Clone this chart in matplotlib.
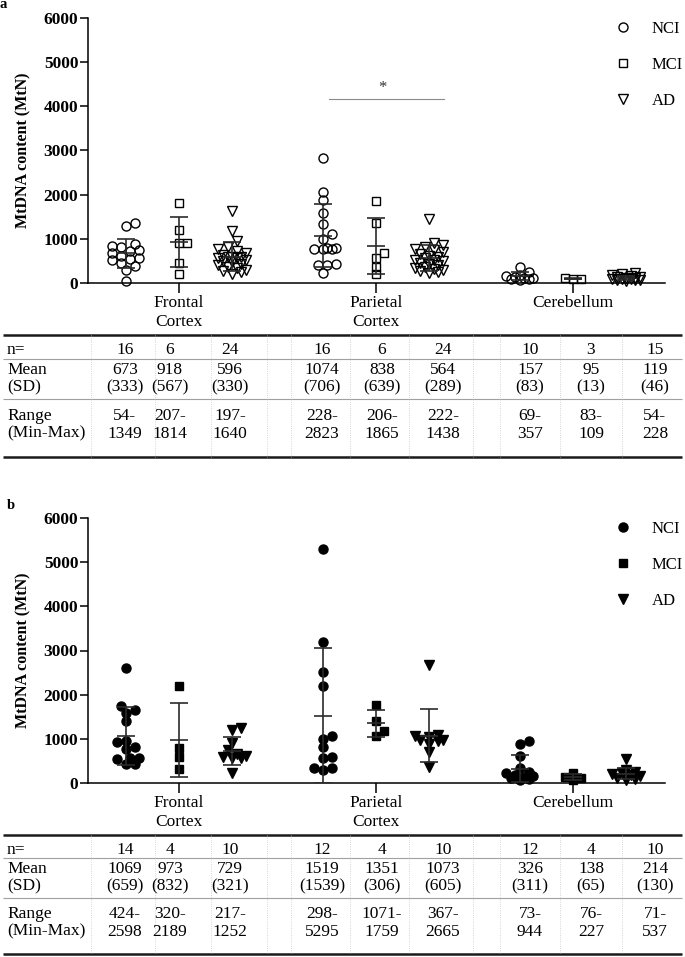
import numpy as np
import matplotlib
matplotlib.use("Agg")
import matplotlib.pyplot as plt
from matplotlib.lines import Line2D

plt.rcParams["font.family"] = ["Liberation Serif", "DejaVu Serif"]

# ---- data ----
regions = ["Frontal\nCortex", "Parietal\nCortex", "Cerebellum"]
groups = ["NCI", "MCI", "AD"]

# panel a: individual values
a_fc_nci = [54, 300, 380, 450, 520, 540, 560, 620, 680, 720, 750, 830, 820, 880, 1280, 1349]
a_fc_mci = [207, 450, 900, 900, 1200, 1814]
a_fc_ad = [1640, 1180, 950, 820, 760, 720, 680, 640, 600, 580, 560, 600, 560, 530, 500, 470,
           440, 400, 360, 330, 300, 270, 240, 197]
a_pc_nci = [2823, 2070, 1880, 1590, 1330, 1110, 1000, 800, 780, 770, 800, 760, 420, 400, 400, 228]
a_pc_mci = [1865, 1350, 680, 560, 370, 206]
a_pc_ad = [1438, 900, 870, 820, 780, 740, 700, 660, 620, 580, 560, 530, 520, 490, 460, 430,
           400, 370, 340, 310, 290, 270, 250, 222]
a_cb_nci = [357, 250, 180, 160, 140, 120, 110, 100, 80, 69]
a_cb_mci = [83, 93, 109]
a_cb_ad = [228, 200, 180, 160, 140, 130, 120, 110, 100, 90, 80, 70, 65, 60, 54]

# panel b
b_fc_nci = [2598, 1750, 1650, 1580, 1400, 950, 920, 820, 780, 560, 560, 540, 430, 424]
b_fc_mci = [2189, 800, 583, 320]
b_fc_ad = [1252, 1200, 900, 750, 660, 610, 590, 570, 560, 217]
b_pc_nci = [5295, 3200, 2520, 2200, 1060, 1000, 820, 600, 570, 350, 330, 298]
b_pc_mci = [1759, 1400, 1175, 1071]
b_pc_ad = [2665, 1080, 1060, 1040, 980, 970, 950, 890, 700, 367]
b_cb_nci = [944, 880, 620, 350, 250, 220, 180, 150, 130, 110, 90, 73]
b_cb_mci = [227, 140, 110, 76]
b_cb_ad = [537, 300, 260, 230, 200, 180, 160, 120, 90, 71]

# summary tables (columns: FC NCI/MCI/AD, PC NCI/MCI/AD, CB NCI/MCI/AD)
a_n = [16, 6, 24, 16, 6, 24, 10, 3, 15]
a_mean = [673, 918, 596, 1074, 838, 564, 157, 95, 119]
a_sd = [333, 567, 330, 706, 639, 289, 83, 13, 46]
a_min = [54, 207, 197, 228, 206, 222, 69, 83, 54]
a_max = [1349, 1814, 1640, 2823, 1865, 1438, 357, 109, 228]

b_n = [14, 4, 10, 12, 4, 10, 12, 4, 10]
b_mean = [1069, 973, 729, 1519, 1351, 1073, 326, 138, 214]
b_sd = [659, 832, 321, 1539, 306, 605, 311, 65, 130]
b_min = [424, 320, 217, 298, 1071, 367, 73, 76, 71]
b_max = [2598, 2189, 1252, 5295, 1759, 2665, 944, 227, 537]

a_points = [a_fc_nci, a_fc_mci, a_fc_ad, a_pc_nci, a_pc_mci, a_pc_ad, a_cb_nci, a_cb_mci, a_cb_ad]
b_points = [b_fc_nci, b_fc_mci, b_fc_ad, b_pc_nci, b_pc_mci, b_pc_ad, b_cb_nci, b_cb_mci, b_cb_ad]

# ---- layout ----
W, H = 685, 957
fig = plt.figure(figsize=(W / 100, H / 100), dpi=100)
FS = 12.5


def px_box(left, top, right, bottom):
    return [left / W, 1 - bottom / H, (right - left) / W, (bottom - top) / H]


sub_off = [-0.27, 0.0, 0.27]
markers = ["o", "s", "v"]
msizes = [6.5, 5.8, 6.6]


def swarm(ax, xc, vals, diam, maxoff):
    """simple beeswarm: returns x offsets in data units"""
    pts = ax.transData.transform(np.column_stack([np.full(len(vals), xc), vals]))
    ys = pts[:, 1]
    step = diam * 0.5
    cands = [0.0]
    k = 1
    while k * step <= maxoff:
        cands += [k * step, -k * step]
        k += 1
    placed = []
    offs = np.zeros(len(vals))
    for i in np.argsort(ys):
        best, bestd = 0.0, -1
        for c in cands:
            d = min(np.hypot(c - px, ys[i] - py) for px, py in placed) if placed else np.inf
            if d >= diam * 0.85:
                best = c
                break
            if d > bestd:
                bestd, best = d, c
        offs[i] = best
        placed.append((best, ys[i]))
    ppu = (ax.transData.transform((1, 0)) - ax.transData.transform((0, 0)))[0]
    return offs / ppu


def draw_panel(ax, points, means, sds, filled):
    ax.set_xlim(-0.462, 2.467)
    ax.set_ylim(0, 6000)
    for s in ["top", "right"]:
        ax.spines[s].set_visible(False)
    for s in ["left", "bottom"]:
        ax.spines[s].set_linewidth(1.1)
    face = "black" if filled else "none"
    for j, vals in enumerate(points):
        r, g = divmod(j, 3)
        xc = r + sub_off[g]
        diam = msizes[g] * 100 / 72
        dx = swarm(ax, xc, vals, diam, 16)
        ax.plot(xc + dx, vals, ls="none", marker=markers[g], ms=msizes[g],
                mfc=face, mec="black", mew=1.0, clip_on=False, zorder=3)
        m, sd = means[j], sds[j]
        lo, hi = max(m - sd, 0), m + sd
        ax.vlines(xc, lo, hi, color="#2b2b2b", lw=1.2, zorder=4)
        ax.hlines([lo, m, hi], xc - 0.046, xc + 0.046, color="#2b2b2b", lw=1.2, zorder=4)
    ax.set_yticks(range(0, 6001, 1000))
    ax.set_yticklabels([str(v) for v in range(0, 6001, 1000)], fontweight="bold", fontsize=FS)
    ax.set_xticks([0, 1, 2])
    ax.set_xticklabels(regions, fontsize=FS, linespacing=1.3)
    ax.tick_params(axis="y", length=5.5, width=1.1, pad=1.5)
    ax.tick_params(axis="x", length=7, width=1.1, pad=1.5)
    handles = [Line2D([], [], ls="none", marker=markers[g], ms=msizes[g], mfc=face,
                      mec="black", mew=1.0) for g in range(3)]
    ax.legend(handles, groups, loc="upper left", bbox_to_anchor=(0.913, 0.99), frameon=False,
              borderpad=0, borderaxespad=0, handlelength=1.0, handletextpad=1.2,
              labelspacing=1.2, fontsize=12)


ax_a = fig.add_axes(px_box(88, 18, 665, 283))
draw_panel(ax_a, a_points, a_mean, a_sd, False)
ax_a.plot([0.76, 1.345], [4166, 4166], color="#8a8a8a", lw=0.8)
ax_a.text(1.03, 4230, "*", ha="center", va="bottom", fontsize=12, color="#333333")

ax_b = fig.add_axes(px_box(88, 518, 665, 783))
draw_panel(ax_b, b_points, b_mean, b_sd, True)

for ax in (ax_a, ax_b):
    fig.text(23 / W, 0.5 * (ax.get_position().y0 + ax.get_position().y1), "MtDNA content (MtN)",
             rotation=90, ha="center", va="center", fontweight="bold", fontsize=11.5)

fig.text(0 / W, 1 - 5 / H, "a", fontweight="bold", fontsize=10.5, va="center")
fig.text(7 / W, 1 - 505 / H, "b", fontweight="bold", fontsize=10.5, va="center")

# ---- tables ----
tab = fig.add_axes([0, 0, 1, 1])
tab.set_xlim(0, W)
tab.set_ylim(H, 0)
tab.axis("off")

col_x = [125, 170, 230, 322, 382, 443, 530, 591, 655]
sep_x = [91, 155, 211, 267, 291, 350, 409, 473, 500, 560, 622]


def draw_table(top, rows_y, bottom, n, mean, sd, mn, mx):
    y_line1, y_line2 = rows_y[3], rows_y[4]
    tab.hlines([top, bottom], 3, 682, color="#1a1a1a", lw=1.8)
    tab.hlines([y_line1, y_line2], 3, 682, color="#a0a0a0", lw=0.8)
    tab.vlines(sep_x, top, bottom, color="#c8c8c8", lw=0.6, linestyles=":")
    tab.text(7, rows_y[0], "n=", ha="left", va="center", fontsize=FS)
    tab.text(7, rows_y[1], "Mean\n(SD)", ha="left", va="center", fontsize=FS, linespacing=1.1)
    tab.text(7, rows_y[2], "Range\n(Min-Max)", ha="left", va="center", fontsize=FS,
             linespacing=1.1)
    for j, x in enumerate(col_x):
        tab.text(x, rows_y[0], str(n[j]), ha="center", va="center", fontsize=FS)
        tab.text(x, rows_y[1], f"{mean[j]}\n({sd[j]})", ha="center", va="center", fontsize=FS,
                 linespacing=1.1)
        tab.text(x, rows_y[2], f"{mn[j]}-\n{mx[j]}", ha="center", va="center", fontsize=FS,
                 linespacing=1.1)


draw_table(335, [350, 379, 425, 359, 399], 457, a_n, a_mean, a_sd, a_min, a_max)
draw_table(835, [850, 878, 923, 858, 898], 954, b_n, b_mean, b_sd, b_min, b_max)

fig.savefig("out.png", dpi=100)
